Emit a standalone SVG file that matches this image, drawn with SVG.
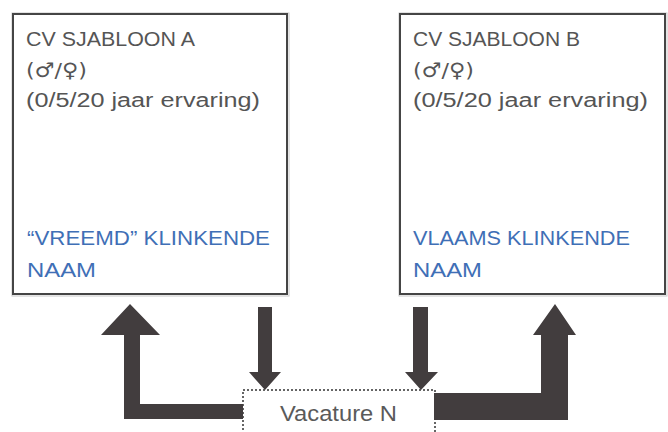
<svg xmlns="http://www.w3.org/2000/svg" width="668" height="432" viewBox="0 0 668 432">
<style>
.box{fill:#ffffff;stroke:#454545;stroke-width:2}
.shadow{fill:none;stroke:#c8c8c8;stroke-width:1}
.t{font-family:"Liberation Sans","DejaVu Sans",sans-serif;font-size:20px;fill:#555555}
.g{font-family:"DejaVu Sans","Liberation Sans",sans-serif;font-size:20px;fill:#555555}
.b{font-family:"Liberation Sans","DejaVu Sans",sans-serif;font-size:20px;fill:#3f6fb6}
.arrow{fill:#423d3e}
.vac{fill:#ffffff;stroke:#333333;stroke-width:1.5;stroke-dasharray:2 2}
.vt{font-family:"Liberation Sans","DejaVu Sans",sans-serif;font-size:22px;fill:#5a5a5a}
</style>
<rect width="668" height="432" fill="#ffffff"/>
<g id="cv-a">
<rect class="shadow" x="12" y="13" width="277" height="283"/>
<rect class="box" x="13" y="14" width="274" height="280"/>
<text class="t" x="26" y="46" textLength="169" lengthAdjust="spacingAndGlyphs">CV SJABLOON A</text>
<text class="g" x="26" y="76.5" textLength="61" lengthAdjust="spacingAndGlyphs">(♂/♀)</text>
<text class="t" x="26" y="107" textLength="234" lengthAdjust="spacingAndGlyphs">(0/5/20 jaar ervaring)</text>
<text class="b" x="27" y="245" textLength="243" lengthAdjust="spacingAndGlyphs">“VREEMD” KLINKENDE</text>
<text class="b" x="27" y="277" textLength="69" lengthAdjust="spacingAndGlyphs">NAAM</text>
</g>
<g id="cv-b">
<rect class="shadow" x="399" y="13" width="268" height="283"/>
<rect class="box" x="400" y="14" width="265" height="280"/>
<text class="t" x="413" y="46" textLength="167" lengthAdjust="spacingAndGlyphs">CV SJABLOON B</text>
<text class="g" x="413" y="76.5" textLength="61" lengthAdjust="spacingAndGlyphs">(♂/♀)</text>
<text class="t" x="413" y="107" textLength="235" lengthAdjust="spacingAndGlyphs">(0/5/20 jaar ervaring)</text>
<text class="b" x="413" y="245" textLength="217" lengthAdjust="spacingAndGlyphs">VLAAMS KLINKENDE</text>
<text class="b" x="413" y="277" textLength="69" lengthAdjust="spacingAndGlyphs">NAAM</text>
</g>
<g id="vacature">
<rect class="vac" x="243" y="390" width="192" height="60"/>
<text class="vt" x="280" y="420.5" textLength="117" lengthAdjust="spacingAndGlyphs">Vacature N</text>
</g>
<g id="connectors">
<polygon class="arrow" points="130,304 160,335 140,335 140,404 243,404 243,419 124,419 124,335 101,335"/>
<polygon class="arrow" points="555,304 576,335 568,335 568,420 434,420 434,393 541,393 541,335 533,335"/>
<polygon class="arrow" points="258,307 272,307 272,372 281,372 265,390 249,372 258,372"/>
<polygon class="arrow" points="413,307 428,307 428,372 438,372 421,390 405,372 413,372"/>
</g>
</svg>
